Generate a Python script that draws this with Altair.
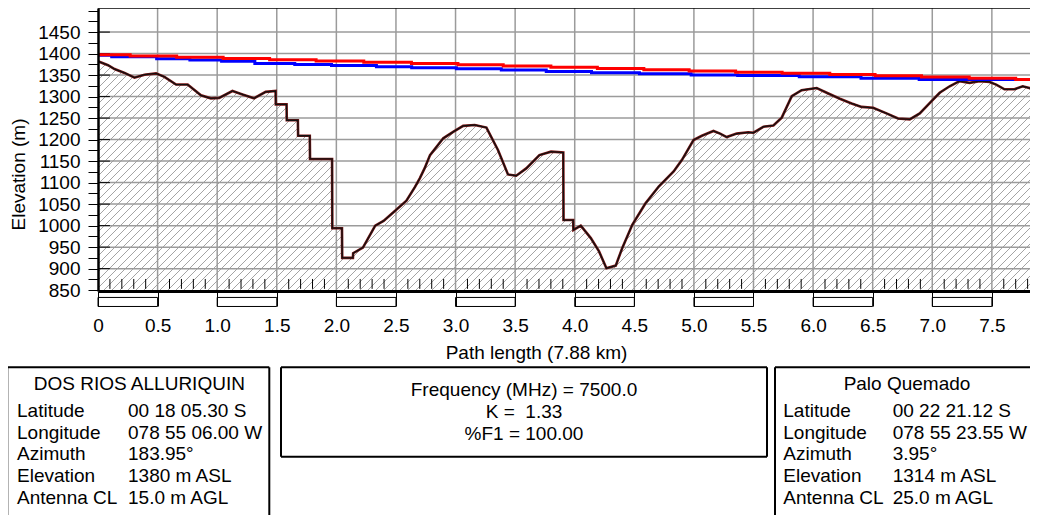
import altair as alt
import numpy as np
import pandas as pd

FONT = "Liberation Sans"
FS = 19

# ---------------- data ----------------
PATH_KM = 7.88                 # full path length
X_VIEW = 7.82                  # part of the path visible inside the picture
Y_MIN, Y_MAX = 848, 1506
PLOT_W, PLOT_H = 932, 283

terrain_km = [0.0, 0.084, 0.139, 0.223, 0.306, 0.39, 0.487, 0.557, 0.655, 0.752,
              0.864, 0.947, 1.017, 1.128, 1.212, 1.309, 1.407, 1.49, 1.492, 1.582,
              1.584, 1.677, 1.679, 1.777, 1.779, 1.964, 1.966, 2.047, 2.049, 2.139,
              2.141, 2.223, 2.326, 2.396, 2.479, 2.588, 2.66, 2.70, 2.74, 2.786,
              2.897, 2.98, 3.064, 3.161, 3.259, 3.356, 3.44, 3.509, 3.593, 3.704,
              3.801, 3.904, 3.906, 3.987, 3.989, 4.051, 4.135, 4.204, 4.266, 4.344,
              4.399, 4.483, 4.594, 4.705, 4.83, 4.9, 4.997, 5.067, 5.164, 5.22,
              5.275, 5.359, 5.456, 5.5, 5.584, 5.667, 5.737, 5.821, 5.904, 6.03,
              6.114, 6.225, 6.323, 6.406, 6.504, 6.616, 6.713, 6.811, 6.895, 6.992,
              7.062, 7.146, 7.229, 7.313, 7.397, 7.481, 7.536, 7.606, 7.69, 7.759,
              7.815, 7.88]
terrain_m = [1382, 1373, 1364, 1355, 1344, 1351, 1354, 1346, 1328, 1328,
             1303, 1296, 1297, 1313, 1305, 1296, 1311, 1313, 1282, 1282,
             1245, 1245, 1209, 1209, 1155, 1155, 994, 994, 925, 925,
             936, 949, 1000, 1011, 1031, 1058, 1090, 1110, 1133, 1164,
             1203, 1218, 1232, 1234, 1228, 1176, 1119, 1116, 1133, 1164,
             1172, 1170, 1013, 1013, 990, 1000, 971, 940, 901, 907,
             948, 1002, 1052, 1091, 1126, 1153, 1199, 1209, 1220, 1214,
             1206, 1214, 1217, 1216, 1230, 1233, 1251, 1301, 1315, 1320,
             1309, 1295, 1284, 1276, 1274, 1261, 1249, 1247, 1261, 1289,
             1309, 1324, 1336, 1332, 1336, 1334, 1328, 1317, 1317, 1324,
             1320, 1312]

# red line of sight (stair-stepped as drawn)
los_km = [0.0, 0.27, 0.66, 1.05, 1.44, 1.83, 2.23, 2.63, 3.02, 3.40, 3.80,
          4.19, 4.58, 4.96, 5.35, 5.74, 6.14, 6.52, 6.91, 7.31, 7.70, 7.88]
los_m = [1397.5, 1394.6, 1391.7, 1388.8, 1385.9, 1383.0, 1380.1, 1377.2, 1374.3,
         1371.4, 1368.5, 1365.6, 1362.7, 1359.8, 1356.9, 1354.0, 1351.1, 1348.2,
         1345.3, 1342.4, 1339.5, 1339.5]

# blue line (stair-stepped as drawn)
blue_km = [0.0, 0.115, 0.492, 0.771, 1.037, 1.316, 1.651, 1.959, 2.336, 2.632,
           3.007, 3.384, 3.761, 4.141, 4.543, 4.977, 5.367, 5.884, 6.402, 6.89, 7.754]
blue_m = [1396.0, 1392.8, 1388.2, 1384.9, 1381.9, 1377.2, 1374.9, 1372.1, 1369.6,
          1366.8, 1364.5, 1361.7, 1358.6, 1355.6, 1353.3, 1350.5, 1349.3, 1345.9,
          1342.4, 1340.0, 1340.0]

x_tick_km = [0.0, 0.5, 1.0, 1.5, 2.0, 2.5, 3.0, 3.5, 4.0, 4.5, 5.0, 5.5, 6.0, 6.5, 7.0, 7.5]
x_grid_km = x_tick_km[1:]
y_tick_m = list(range(850, 1501, 25))
y_grid_m = list(range(900, 1451, 50))
x_minor_km = [round(i * 0.1, 1) for i in range(1, 79) if i % 5 != 0]
bar_start_km = [0.0, 1.0, 2.0, 3.0, 4.0, 5.0, 6.0, 7.0]

site_rows = ["Latitude", "Longitude", "Azimuth", "Elevation", "Antenna CL"]
site_a_name = "DOS RIOS ALLURIQUIN"
site_a_vals = ["00 18 05.30 S", "078 55 06.00 W", "183.95°", "1380 m ASL", "15.0 m AGL"]
site_b_name = "Palo Quemado"
site_b_vals = ["00 22 21.12 S", "078 55 23.55 W", "3.95°", "1314 m ASL", "25.0 m AGL"]
center_lines = ["Frequency (MHz) = 7500.0", "K =\u00a0 1.33", "%F1 = 100.00"]

# ---------------- layout (pixels, relative to the plot's top-left corner) ----------------
PAD_L, PAD_T, PAD_R, PAD_B = 90, 0, 0, 224
BOX_TOP = 359.3
BOX_END = PLOT_H + PAD_B          # bottom of the picture
BOX_A = (-90.7, 171.3)
BOX_C = (183.0, 669.0, 448.7)
BOX_B = (677.0, PLOT_W + PAD_R)   # right side runs past the picture edge
ROW_Y0, ROW_DY = 402.7, 21.8
TITLE_Y = 376.0
C_Y0, C_DY = 381.5, 22.0

# ---------------- styling helpers ----------------
PX_PER_KM = PLOT_W / X_VIEW
HATCH_STEP = 8 / PX_PER_KM
HATCH_RUN = PLOT_H / PX_PER_KM
hatch_x = np.arange(-HATCH_RUN, X_VIEW, HATCH_STEP)

xs = alt.Scale(domain=[0, X_VIEW], nice=False, zero=False)
ys = alt.Scale(domain=[Y_MIN, Y_MAX], nice=False, zero=False)

x_axis = alt.Axis(values=x_tick_km, tickSize=15, tickColor="black", tickWidth=1,
                  domainColor="black", domainWidth=3, grid=False, zindex=1,
                  labelFont=FONT, labelFontSize=FS, labelColor="black", labelPadding=10,
                  labelFlush=False,
                  labelExpr="datum.value == 0 ? '0' : format(datum.value, '.1f')",
                  title=f"Path length ({PATH_KM:.2f} km)", titleFont=FONT, titleFontSize=FS,
                  titleFontWeight="normal", titleColor="black",
                  titleX=438, titleY=61, titleAlign="center", titleBaseline="middle")
y_axis = alt.Axis(values=y_tick_m, tickSize=10, tickColor="black", tickWidth=1,
                  domainColor="black", domainWidth=2.5, grid=False, zindex=1,
                  labelFont=FONT, labelFontSize=FS, labelColor="black", labelPadding=8,
                  labelExpr="(datum.value % 50 == 0 && datum.value <= 1450) ? datum.value : ''",
                  title="Elevation (m)", titleFont=FONT, titleFontSize=FS,
                  titleFontWeight="normal", titleColor="black",
                  titleX=-80, titleY=166, titleAngle=270, titleAlign="center",
                  titleBaseline="middle")


def X(f):
    return alt.X(f, type="quantitative", scale=xs, axis=x_axis)


def Y(f):
    return alt.Y(f, type="quantitative", scale=ys, axis=y_axis)


terr = pd.DataFrame({"km": terrain_km, "m": terrain_m, "top": Y_MAX})
hatch_df = pd.DataFrame({"x": hatch_x, "x2": hatch_x + HATCH_RUN, "y": Y_MIN, "y2": Y_MAX})
vgrid = pd.DataFrame({"x": x_grid_km, "y": Y_MIN, "y2": Y_MAX})
hgrid = pd.DataFrame({"y": y_grid_m, "x": 0.0, "x2": X_VIEW})
minor = pd.DataFrame({"x": [v for v in x_minor_km if v < X_VIEW], "y": 853, "y2": 876})
inner = pd.DataFrame({"y": y_grid_m, "x": 0.0, "x2": 0.1})
los = pd.DataFrame({"km": los_km, "m": los_m})
blue = pd.DataFrame({"km": blue_km, "m": blue_m})
border = pd.DataFrame({"x": [0.0], "x2": [X_VIEW], "y": [Y_MAX]})
bar = pd.DataFrame({"x": bar_start_km, "x2": [min(b + 0.5, X_VIEW) for b in bar_start_km],
                    "y": 833, "y2": 812})

# info-box frames and texts (layout tables built from the text lists above)
ax0, ax1 = BOX_A
bx0, bx1 = BOX_B
cx0, cx1, cy1 = BOX_C
frames = [(ax0, BOX_TOP, ax0, BOX_END), (ax0, BOX_TOP, ax1, BOX_TOP), (ax1, BOX_TOP, ax1, BOX_END),
          (bx0, BOX_TOP, bx0, BOX_END), (bx0, BOX_TOP, bx1, BOX_TOP),
          (cx0, BOX_TOP, cx0, cy1), (cx0, BOX_TOP, cx1, BOX_TOP),
          (cx1, BOX_TOP, cx1, cy1), (cx0, cy1, cx1, cy1)]
frame_df = pd.DataFrame(frames, columns=["px", "py", "px2", "py2"])

left_txt, center_txt = [], []
for x0, name, vals, lx, vx in ((ax0, site_a_name, site_a_vals, -81.0, 30.0),
                               (bx0, site_b_name, site_b_vals, 685.3, 794.7)):
    center_txt.append((name, x0 + 132.0, TITLE_Y))
    for i, (lab, val) in enumerate(zip(site_rows, vals)):
        left_txt.append((lab, lx, ROW_Y0 + i * ROW_DY))
        left_txt.append((val, vx, ROW_Y0 + i * ROW_DY))
for i, line in enumerate(center_lines):
    center_txt.append((line, (cx0 + cx1) / 2, C_Y0 + i * C_DY))
left_df = pd.DataFrame(left_txt, columns=["text", "px", "py"])
center_df = pd.DataFrame(center_txt, columns=["text", "px", "py"])

PX = alt.X("px:Q", scale=None, axis=None)
PY = alt.Y("py:Q", scale=None, axis=None)

layers = [
    alt.Chart(hatch_df).mark_rule(clip=True, color="#9a9a9a", strokeWidth=0.9).encode(
        x=X("x"), y=Y("y"), x2="x2:Q", y2="y2:Q"),
    alt.Chart(terr).mark_area(clip=True, color="white", opacity=1).encode(
        x=X("km"), y=Y("m"), y2="top:Q"),
    alt.Chart(vgrid).mark_rule(color="#9b9b9b", strokeWidth=1.5).encode(
        x=X("x"), y=Y("y"), y2="y2:Q"),
    alt.Chart(hgrid).mark_rule(color="#9b9b9b", strokeWidth=1.5).encode(
        y=Y("y"), x=X("x"), x2="x2:Q"),
    alt.Chart(minor).mark_rule(color="black", strokeWidth=1).encode(
        x=X("x"), y=Y("y"), y2="y2:Q"),
    alt.Chart(inner).mark_rule(color="black", strokeWidth=1).encode(
        y=Y("y"), x=X("x"), x2="x2:Q"),
    alt.Chart(terr).mark_line(clip=True, color="#7a1515", strokeWidth=2.6).encode(
        x=X("km"), y=Y("m")),
    alt.Chart(terr).mark_line(clip=True, color="#111111", strokeWidth=1.3).encode(
        x=X("km"), y=Y("m")),
    alt.Chart(blue).mark_line(clip=True, color="#0000ff", strokeWidth=3,
                              interpolate="step-after").encode(x=X("km"), y=Y("m")),
    alt.Chart(los).mark_line(clip=True, color="#ff0000", strokeWidth=3,
                             interpolate="step-after").encode(x=X("km"), y=Y("m")),
    alt.Chart(border).mark_rule(color="black", strokeWidth=1.5).encode(
        x=X("x"), x2="x2:Q", y=Y("y")),
    alt.Chart(bar).mark_rect(clip=False, fillOpacity=0, stroke="black", strokeWidth=1).encode(
        x=X("x"), x2="x2:Q", y=Y("y"), y2="y2:Q"),
    alt.Chart(frame_df).mark_rule(color="black", strokeWidth=2).encode(
        x=PX, y=PY, x2="px2:Q", y2="py2:Q"),
    alt.Chart(left_df).mark_text(font=FONT, fontSize=FS, align="left", baseline="middle",
                                 color="black").encode(x=PX, y=PY, text="text:N"),
    alt.Chart(center_df).mark_text(font=FONT, fontSize=FS, align="center", baseline="middle",
                                   color="black").encode(x=PX, y=PY, text="text:N"),
]

chart = alt.layer(*layers).properties(
    width=PLOT_W, height=PLOT_H,
    autosize=alt.AutoSizeParams(type="none"),
    padding={"left": PAD_L, "top": PAD_T, "right": PAD_R, "bottom": PAD_B},
).configure_view(strokeWidth=0).configure(font=FONT)

chart.save("out.html", embed_options={"renderer": "svg", "actions": False})
